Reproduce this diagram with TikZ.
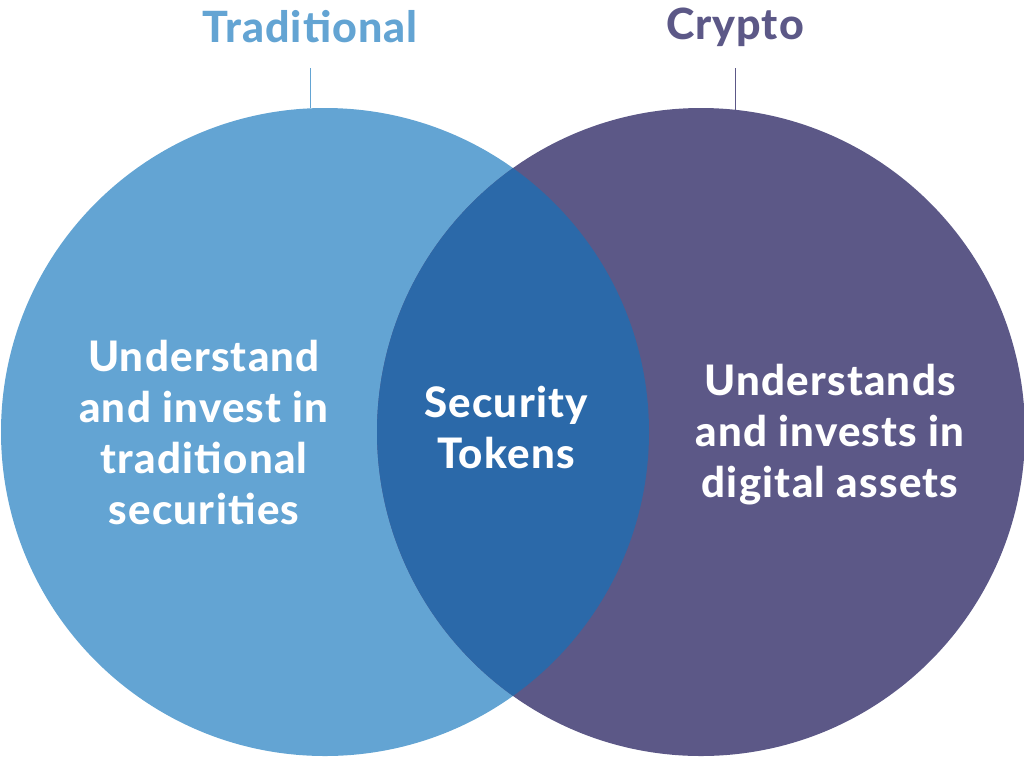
\documentclass[tikz,border=0pt]{standalone}
\usepackage{fontspec}
\setmainfont{Lato}
\newfontfamily\latoheavy{Lato Heavy}[LetterSpace=3]
\newfontfamily\latotitle{Lato Heavy}[LetterSpace=2.5]
\definecolor{tradblue}{HTML}{63A4D3}
\definecolor{cryptopurple}{HTML}{5C5887}
\definecolor{overlapblue}{HTML}{2B69A9}

\begin{document}
\begin{tikzpicture}[x=1pt, y=-1pt,
  set/.style={circle, minimum size=648pt, inner sep=0pt},
  setname/.style={font=\latotitle\fontsize{43}{50}\selectfont},
  setlabel/.style={font=\latoheavy\fontsize{42}{51}\selectfont, text=white, align=center}]
  \useasboundingbox (0,0) rectangle (1024,756);
  \node (tradset) [set, fill=tradblue] at (325,432) {};
  \node (cryptoset) [set, fill=cryptopurple] at (701,432) {};
  \begin{scope}
    \clip (325,432) circle (324pt);
    \fill[overlapblue] (701,432) circle (324pt);
  \end{scope}
  \node (tradname) [setname, text=tradblue] at (310,27) {Traditional};
  \node (cryptoname) [setname, text=cryptopurple] at (735,27) {Crypto};
  \coordinate (tradstem) at (310,68);
  \coordinate (tradtop) at (310,108);
  \coordinate (cryptostem) at (735,68);
  \coordinate (cryptotop) at (735,110);
  \draw[tradblue, line width=1pt] (tradstem) -- (tradtop);
  \draw[cryptopurple, line width=1pt] (cryptostem) -- (cryptotop);
  \node (tradtext) [setlabel] at (204,432) {Understand\\and invest in\\traditional\\securities};
  \node (bothtext) [setlabel] at (506,427) {Security\\Tokens};
  \node (cryptotext) [setlabel] at (830,435) {Understands\\and invests in\\digital assets};
\end{tikzpicture}
\end{document}
